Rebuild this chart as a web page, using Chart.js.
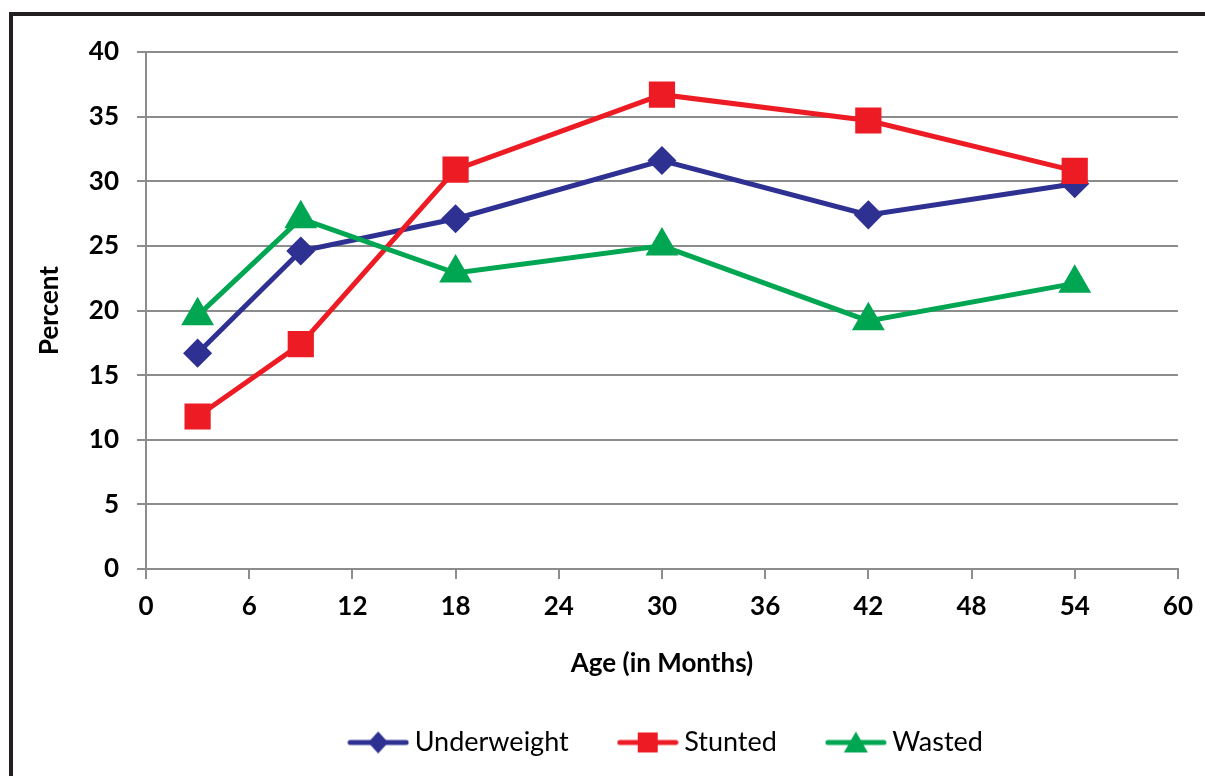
<!DOCTYPE html>
<html>
<head>
<meta charset="utf-8">
<style>
  html, body { margin: 0; padding: 0; background: #fff; }
  #wrap { width: 1205px; height: 776px; position: relative; }
</style>
<script src="https://cdn.jsdelivr.net/npm/chart.js@4/dist/chart.umd.min.js"></script>
</head>
<body>
<div id="wrap"><canvas id="chart" width="1205" height="776"></canvas></div>
<script>
const ages = [3, 9, 18, 30, 42, 54];
const underweight = [16.7, 24.6, 27.1, 31.6, 27.4, 29.8];
const stunted = [11.8, 17.4, 30.9, 36.7, 34.7, 30.8];
const wasted = [19.6, 27.1, 22.9, 25.0, 19.2, 22.1];
const seriesNames = ['Underweight', 'Stunted', 'Wasted'];
const xTicks = [0, 6, 12, 18, 24, 30, 36, 42, 48, 54, 60];
const yTicks = [0, 5, 10, 15, 20, 25, 30, 35, 40];

const BLUE = '#2e3192';
const RED = '#ed1c24';
const GREEN = '#00a651';
const GRID = '#8c8c8c';
const FONT = 'Lato, "Open Sans", sans-serif';

function toPoints(vals) {
    return ages.map((a, i) => ({ x: a, y: vals[i] }));
}

// legend icon: short line with the marker on it
function legendIcon(color, shape) {
    const c = document.createElement('canvas');
    c.width = 62; c.height = 26;
    const g = c.getContext('2d');
    g.strokeStyle = color; g.fillStyle = color;
    g.lineWidth = 5; g.lineCap = 'round';
    g.beginPath(); g.moveTo(3, 13); g.lineTo(59, 13); g.stroke();
    g.beginPath();
    if (shape === 'diamond') {
        g.moveTo(31, 2); g.lineTo(41, 13); g.lineTo(31, 24); g.lineTo(21, 13);
    } else if (shape === 'square') {
        g.rect(21, 3, 20, 20);
    } else {
        g.moveTo(31, 2); g.lineTo(43, 23); g.lineTo(19, 23);
    }
    g.closePath(); g.fill();
    return c;
}
const icons = [legendIcon(BLUE, 'diamond'), legendIcon(RED, 'square'), legendIcon(GREEN, 'triangle')];

const framePlugin = {
    id: 'frame',
    afterLayout(chart) {
        // the legend sits right of centre in the original
        chart.legend.left += 80;
        chart.legend.right += 80;
    },
    afterDraw(chart) {
        const ctx = chart.ctx;
        ctx.save();
        ctx.fillStyle = '#231f20';
        ctx.fillRect(9, 12, 1205 - 9, 4);
        ctx.fillRect(9, 12, 4, 776 - 12);
        ctx.restore();
    }
};

new Chart(document.getElementById('chart'), {
    type: 'line',
    data: {
        datasets: [
            { label: seriesNames[0], data: toPoints(underweight), borderColor: BLUE, backgroundColor: BLUE,
              pointStyle: 'rectRot', pointRadius: 11, borderWidth: 5, order: 3 },
            { label: seriesNames[1], data: toPoints(stunted), borderColor: RED, backgroundColor: RED,
              pointStyle: 'rect', pointRadius: 15, borderWidth: 5, order: 2 },
            { label: seriesNames[2], data: toPoints(wasted), borderColor: GREEN, backgroundColor: GREEN,
              pointStyle: 'triangle', pointRadius: 14, borderWidth: 5, order: 1 }
        ]
    },
    options: {
        responsive: false,
        animation: false,
        layout: { padding: { left: 0, top: 52, right: 27, bottom: 10 } },
        elements: { line: { tension: 0 }, point: { borderWidth: 0 } },
        plugins: {
            tooltip: { enabled: false },
            legend: {
                position: 'bottom',
                labels: {
                    usePointStyle: true,
                    pointStyleWidth: 46,
                    padding: 56,
                    color: '#000',
                    font: { family: FONT, size: 27 },
                    generateLabels: (chart) => chart.data.datasets.map((ds, i) => ({
                        text: ds.label,
                        pointStyle: icons[i],
                        fillStyle: ds.borderColor,
                        strokeStyle: ds.borderColor,
                        lineWidth: 0,
                        datasetIndex: i
                    }))
                }
            }
        },
        scales: {
            x: {
                type: 'linear',
                min: 0, max: 60,
                afterBuildTicks: (s) => { s.ticks = xTicks.map(v => ({ value: v })); },
                afterFit: (s) => { s.height = 104; },
                grid: { drawOnChartArea: false, drawTicks: true, tickLength: 10, color: GRID, lineWidth: 2 },
                border: { color: GRID, width: 2 },
                ticks: { color: '#000', padding: 12, maxRotation: 0, font: { family: FONT, size: 26, weight: 'bold' } },
                title: { display: true, text: 'Age (in Months)', color: '#000', padding: { top: 14, bottom: -6 },
                         font: { family: FONT, size: 26, weight: 'bold' } }
            },
            y: {
                min: 0, max: 40,
                afterBuildTicks: (s) => { s.ticks = yTicks.map(v => ({ value: v })); },
                afterFit: (s) => { s.width = 146; },
                grid: { color: GRID, lineWidth: 2, tickLength: 9 },
                border: { color: GRID, width: 2 },
                ticks: { color: '#000', padding: 18, font: { family: FONT, size: 26, weight: 'bold' } },
                title: { display: true, text: 'Percent', color: '#000', padding: { top: 34, bottom: 0 },
                         font: { family: FONT, size: 26, weight: 'bold' } }
            }
        }
    },
    plugins: [framePlugin]
});
</script>
</body>
</html>
